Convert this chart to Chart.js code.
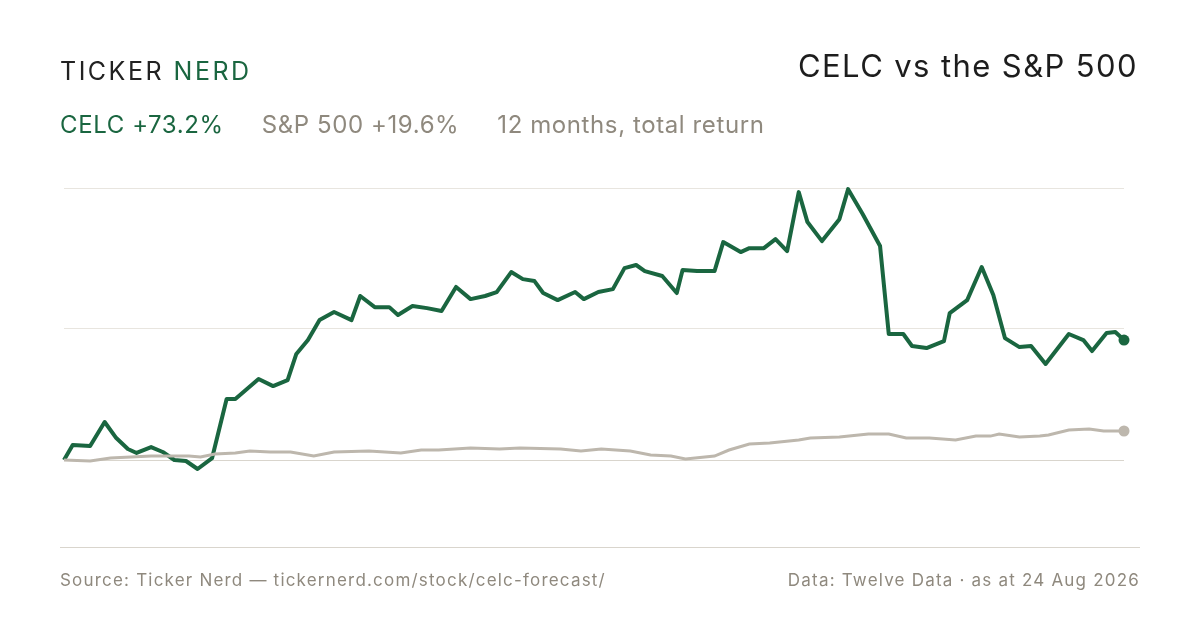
<!DOCTYPE html>
<html>
<head>
<meta charset="utf-8">
<script src="https://cdn.jsdelivr.net/npm/chart.js@4"></script>
<style>
  html, body { margin: 0; padding: 0; background: #fff; }
  body { width: 1200px; height: 630px; position: relative; overflow: hidden; font-family: Inter, "Noto Sans", sans-serif; }
  #chart { position: absolute; left: 0; top: 0; }
  .logo { position: absolute; left: 60px; top: 56px; font-size: 25px; letter-spacing: 2.5px; color: #222; }
  .logo span { color: #1a6640; }
  .title { position: absolute; right: 62px; top: 47px; font-size: 31px; letter-spacing: 1.4px; color: #1d1d1d; }
  .sub { position: absolute; left: 60px; top: 110px; font-size: 24px; letter-spacing: 0.6px; color: #8f897e; }
  .sub .celc { color: #1a6640; margin-right: 38px; }
  .sub .spx { margin-right: 38px; }
  .rule { position: absolute; left: 60px; width: 1080px; top: 547px; height: 1px; background: #d9d5cd; }
  .foot { position: absolute; top: 570px; font-size: 17px; letter-spacing: 1.2px; color: #8f897e; }
</style>
</head>
<body>
<canvas id="chart" width="1200" height="630"></canvas>
<div class="logo">TICKER <span>NERD</span></div>
<div class="title">CELC vs the S&amp;P 500</div>
<div class="sub"><span class="celc">CELC +73.2%</span><span class="spx">S&amp;P 500 +19.6%</span>12 months, total return</div>
<div class="rule"></div>
<div class="foot" style="left:60px">Source: Ticker Nerd — tickernerd.com/stock/celc-forecast/</div>
<div class="foot" style="right:60px">Data: Twelve Data · as at 24 Aug 2026</div>
<script>
const celcDays = [0,3,9,14,18,22,25,30,34,38,42,46,51,56,59,63,67,72,77,80,84,88,93,99,102,107,112,115,120,125,130,135,140,145,149,154,158,162,165,170,176,179,184,189,193,197,200,206,211,213,218,224,227,233,236,241,245,249,253,256,261,267,270,275,281,284,289,292,297,303,305,311,316,320,324,329,333,338,346,351,354,359,362,365];
const celcReturn = [0,9.2,8.5,23.2,13.4,6.7,4.3,7.9,4.9,0,-0.6,-5.5,1.2,37.2,37.2,43.3,49.4,45.1,48.8,64.7,73.2,85.4,90.3,85.4,100.1,93.3,93.3,88.5,94,92.7,90.9,105.6,98.2,100.1,102.5,114.7,110.4,109.2,101.9,97.6,102.5,98.2,102.5,104.3,117.1,119,115.3,112.3,101.9,115.9,115.3,115.3,133,126.9,129.3,129.3,134.8,127.5,163.5,145.2,133.6,147,165.3,150.1,130.6,76.9,76.9,69.6,68.3,72.6,89.7,97.6,117.8,100.7,74.4,68.9,69.6,58.6,76.9,73.2,66.5,77.5,78.1,73.2];
const spxDays = [0,9,16,30,43,47,52,59,64,71,78,86,93,105,116,123,129,140,150,157,171,178,185,195,202,209,214,224,229,236,243,253,257,267,277,284,290,298,307,314,319,322,329,336,339,346,353,358,365];
const spxReturn = [0,-0.6,1.2,2.4,2.4,1.8,3.7,4.3,5.5,4.9,4.9,2.4,4.9,5.5,4.3,6.1,6.1,7.3,6.7,7.3,6.7,5.5,6.7,5.5,3.1,2.4,0.6,2.4,6.1,9.8,10.4,12.2,13.4,14,15.9,15.9,13.4,13.4,12.2,14.6,14.6,15.9,14,14.6,15.3,18.3,18.9,17.7,17.7];
const gridValues = [0, 80, 166];

const toPoints = (xs, ys) => xs.map((x, i) => ({ x: x, y: ys[i] }));
const lastOnly = (n, r) => (ctx) => ctx.dataIndex === n - 1 ? r : 0;

new Chart(document.getElementById("chart"), {
  type: "line",
  data: {
    datasets: [
      {
        data: toPoints(spxDays, spxReturn),
        borderColor: "#bdb7ad",
        backgroundColor: "#bdb7ad",
        borderWidth: 3,
        pointRadius: lastOnly(spxDays.length, 5.5),
        pointBorderWidth: 0,
        tension: 0,
        clip: false,
      },
      {
        data: toPoints(celcDays, celcReturn),
        borderColor: "#1a6640",
        backgroundColor: "#1a6640",
        borderWidth: 4,
        borderJoinStyle: "round",
        pointRadius: lastOnly(celcDays.length, 5.5),
        pointBorderWidth: 0,
        tension: 0,
        clip: false,
      },
    ],
  },
  options: {
    responsive: false,
    animation: false,
    layout: { padding: { left: 64, right: 76, top: 188, bottom: 82 } },
    plugins: { legend: { display: false }, tooltip: { enabled: false } },
    scales: {
      x: { type: "linear", min: 0, max: 365, display: false },
      y: {
        min: -53.7,
        max: 166,
        afterBuildTicks: (axis) => { axis.ticks = gridValues.map((v) => ({ value: v })); },
        ticks: { display: false },
        border: { display: false },
        grid: {
          drawTicks: false,
          color: (ctx) => ctx.tick && ctx.tick.value === 0 ? "#d9d5cd" : "#e8e5df",
          lineWidth: 1,
        },
      },
    },
  },
});
</script>
</body>
</html>
